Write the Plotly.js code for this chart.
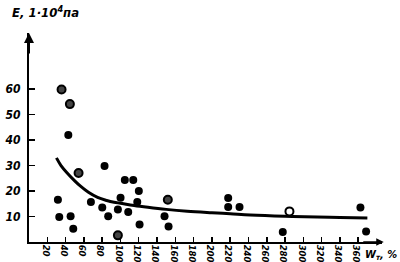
<!DOCTYPE html>
<html><head><meta charset="utf-8">
<script src="https://cdn.plot.ly/plotly-3.0.1.min.js"></script>
<style>html,body{margin:0;padding:0;background:#fff}#c{width:400px;height:262px}</style>
</head><body><div id="c"></div>
<script>
// Filled data points (W_т, %  ;  E, 1·10^4 Па)
const filledW = [43, 82.6, 31.6, 33.1, 45.5, 48.4, 67.7, 80.1, 86.6, 97.2, 100.1, 108.5, 104.8, 114, 120.1, 118.4, 120.9, 148.2, 152.6, 217.8, 217.8, 230.2, 277.5, 362.4, 368.6];
const filledE = [42, 29.8, 16.6, 9.8, 10.1, 5.2, 15.7, 13.5, 10.1, 12.8, 17.4, 11.8, 24.3, 24.3, 20, 15.7, 6.9, 10.1, 6.1, 17.3, 13.7, 13.7, 3.9, 13.5, 4.1];
// Points with light centres
const ringW = [35.6, 44.7, 54.2, 151.8, 97.2];
const ringE = [59.8, 54.1, 27.1, 16.6, 2.6];
// Open point
const openW = [284.8];
const openE = [12];
// Fitted curve
const curveW = [30, 35, 42, 50, 56, 65, 75, 85, 93, 100, 115, 130, 150, 173, 200, 220, 242, 280, 315, 340, 370];
const curveE = [33, 30, 27, 24, 22, 19.5, 17.5, 16.3, 15.6, 15.2, 14.3, 13.6, 12.8, 12.1, 11.5, 11.1, 10.6, 10.1, 9.8, 9.6, 9.4];
// Tick labels
const xTicks = [20,40,60,80,100,120,140,160,180,200,220,240,260,280,300,320,340,360];
const yTicks = [10,20,30,40,50,60];

const tickFont = {family:'"Liberation Sans Narrow", "DejaVu Sans Condensed", sans-serif', size:10, color:'#000', weight:700, style:'italic'};

const traces = [
  {x:curveW, y:curveE, mode:'lines', line:{color:'#000', width:3, shape:'spline'}, hoverinfo:'skip'},
  {x:filledW, y:filledE, mode:'markers', marker:{color:'#000', size:8}},
  {x:ringW, y:ringE, mode:'markers', marker:{color:'#444', size:8, line:{color:'#000', width:2}}},
  {x:openW, y:openE, mode:'markers', marker:{color:'#fff', size:8, line:{color:'#000', width:2}}}
];

const layout = {
  width:400, height:262,
  margin:{l:29, r:18, t:33, b:20, pad:0},
  paper_bgcolor:'#fff', plot_bgcolor:'#fff',
  showlegend:false,
  font:tickFont,
  xaxis:{range:[0,386], showgrid:false, zeroline:false, showline:true, linecolor:'#000', linewidth:2,
    tickmode:'array', tickvals:xTicks, ticktext:xTicks.map(String), ticks:'inside', ticklen:5, tickwidth:1.5, tickcolor:'#000',
    tickfont:{...tickFont, size:9.5}, ticklabelstandoff:-6},
  yaxis:{range:[0,82], showgrid:false, zeroline:false, showline:true, linecolor:'#000', linewidth:2,
    tickmode:'array', tickvals:yTicks, ticktext:yTicks.map(String), ticks:'inside', ticklen:6, tickwidth:1.5, tickcolor:'#000',
    tickfont:{...tickFont, size:12}, ticklabelstandoff:4},
  annotations:[
    {xref:'paper', yref:'paper', x:0, y:1, ax:0, ay:22, showarrow:true, arrowhead:2, arrowsize:1, arrowwidth:2, arrowcolor:'#000', text:''},
    {xref:'paper', yref:'paper', x:1.005, y:0, ax:-22, ay:0, showarrow:true, arrowhead:2, arrowsize:1, arrowwidth:1.5, arrowcolor:'#000', text:''},
    {xref:'paper', yref:'paper', x:-0.055, y:1.0, yshift:21, xanchor:'left', yanchor:'middle', showarrow:false,
      text:'Е, 1·10<sup>4</sup>па', font:{...tickFont, size:13}},
    {xref:'paper', yref:'paper', x:1.047, y:0, yshift:-13, xanchor:'right', yanchor:'middle', showarrow:false,
      text:'W<sub>т</sub>, %', font:{...tickFont, size:11}}
  ]
};
Plotly.newPlot('c', traces, layout, {staticPlot:true, displayModeBar:false});
</script></body></html>
